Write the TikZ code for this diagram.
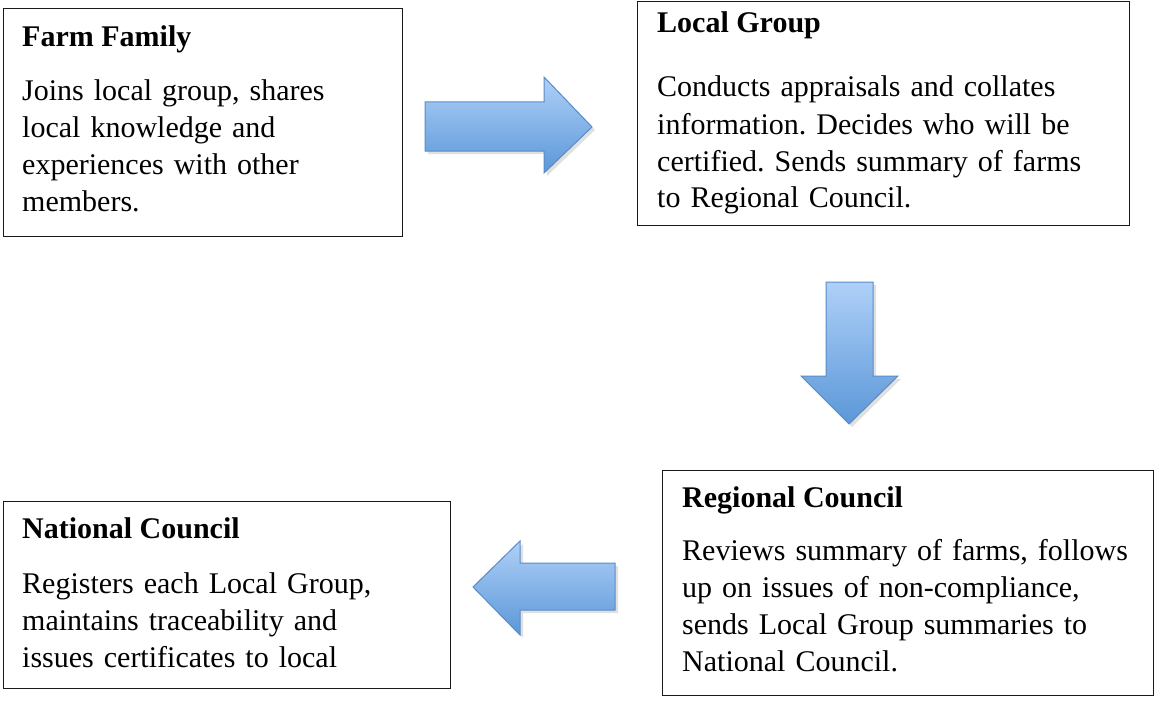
\documentclass[tikz,border=0pt]{standalone}
\usepackage{fontspec}
\setmainfont{Liberation Serif}
\frenchspacing
\definecolor{arrowtop}{HTML}{AFD0F8}
\definecolor{arrowbot}{HTML}{5B97D8}
\definecolor{arrowline}{HTML}{5A8CC8}
\tikzset{
  box/.style={draw=black!90, line width=1.4pt, anchor=north west, inner sep=0pt},
  title/.style={anchor=base west, inner sep=0pt, font=\fontsize{30}{37}\selectfont\bfseries},
  body/.style={anchor=base west, inner sep=0pt, text width=470pt, align=left, font=\fontsize{30}{37}\selectfont\frenchspacing},
  arrowshape/.style={draw=arrowline, line width=1pt, line join=miter},
  arrowshadow/.style={fill=black, fill opacity=0.12, draw=none}
}
\begin{document}
\begin{tikzpicture}[x=1pt,y=-1pt]
\useasboundingbox (0,0) rectangle (1155,706);
\fill[white] (0,0) rectangle (1155,706);

% boxes
\node[box, minimum width=399pt, minimum height=228pt] (farm) at (3,8) {};
\node[box, minimum width=492pt, minimum height=224pt] (local) at (637,1) {};
\node[box, minimum width=491pt, minimum height=225pt] (regional) at (662,470) {};
\node[box, minimum width=447pt, minimum height=187pt] (national) at (3,501) {};

% texts
\node[title] (farmT) at (22,47) {Farm Family};
\node[body] (farmB) at (22,100) {Joins local group, shares\\local knowledge and\\experiences with other\\members.};

\node[title] (localT) at (657,33) {Local Group};
\node[body] (localB) at (657,97) {Conducts appraisals and collates\\information. Decides who will be\\certified. Sends summary of farms\\to Regional Council.};

\node[title] (regionalT) at (682,507) {Regional Council};
\node[body] (regionalB) at (682,560) {Reviews summary of farms, follows\\up on issues of non-compliance,\\sends Local Group summaries to\\National Council.};

\node[title] (nationalT) at (22,538) {National Council};
\node[body] (nationalB) at (22,593) {Registers each Local Group,\\maintains traceability and\\issues certificates to local};

% right arrow (farm -> local)
\fill[arrowshadow] (428,105) -- (547,105) -- (547,80) -- (595,130) -- (547,176) -- (547,154) -- (428,154) -- cycle;
\shade[top color=arrowtop, bottom color=arrowbot, arrowshape]
  (425,102) -- (544,102) -- (544,77) -- (592,127) -- (544,173) -- (544,151) -- (425,151) -- cycle;

% down arrow (local -> regional)
\fill[arrowshadow] (829,285) -- (876,285) -- (876,379) -- (901,379) -- (852,427) -- (804,379) -- (829,379) -- cycle;
\shade[top color=arrowtop, bottom color=arrowbot, arrowshape]
  (826,282) -- (873,282) -- (873,376) -- (898,376) -- (849,424) -- (801,376) -- (826,376) -- cycle;

% left arrow (regional -> national)
\fill[arrowshadow] (618,566) -- (523,566) -- (523,544) -- (476,590) -- (523,638) -- (523,613) -- (618,613) -- cycle;
\shade[top color=arrowtop, bottom color=arrowbot, arrowshape]
  (615,563) -- (520,563) -- (520,541) -- (473,587) -- (520,635) -- (520,610) -- (615,610) -- cycle;
\end{tikzpicture}
\end{document}
